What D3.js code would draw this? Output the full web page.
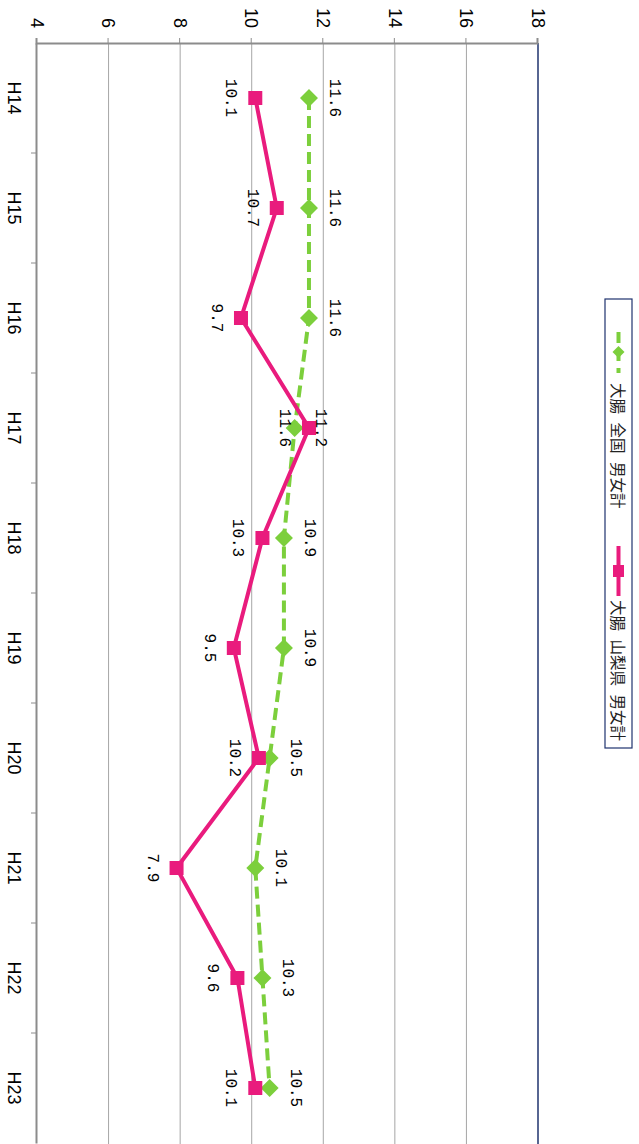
<!DOCTYPE html>
<html>
<head>
<meta charset="utf-8">
<script src="https://cdn.jsdelivr.net/npm/d3@7"></script>
<style>
  html, body { margin: 0; padding: 0; background: #fff; }
  svg { display: block; }
  .tick text { fill: #000; }
</style>
</head>
<body>
<div class="svg"></div>
<script>
// chart data
var categories = ["H14", "H15", "H16", "H17", "H18", "H19", "H20", "H21", "H22", "H23"];
var national = [11.6, 11.6, 11.6, 11.2, 10.9, 10.9, 10.5, 10.1, 10.3, 10.5];
var yamanashi = [10.1, 10.7, 9.7, 11.6, 10.3, 9.5, 10.2, 7.9, 9.6, 10.1];
var valueTicks = [4, 6, 8, 10, 12, 14, 16, 18];
var seriesNames = ["大腸 全国 男女計", "大腸 山梨県 男女計"];

var width = 639, height = 1144;
var green = "#7ccf3c", pink = "#e91b7d", navy = "#1f336e";

var svg = d3.select("div.svg")
    .append("svg")
    .attr("width", width)
    .attr("height", height);

// the whole chart is turned a quarter clockwise, so draw it upright and rotate the group
var g = svg.append("g")
    .attr("transform", "translate(" + width + ",0) rotate(90)");

var x = d3.scaleBand()
    .domain(categories)
    .range([43, 1143])
    .padding(0);

var y = d3.scaleLinear()
    .domain([4, 18])
    .range([602, 101]);

var cx = function (i) { return x(categories[i]) + x.bandwidth() / 2; };

// horizontal gridlines
g.append("g")
    .selectAll("line")
    .data(valueTicks.filter(function (v) { return v > 4 && v < 18; }))
    .enter().append("line")
    .attr("x1", 43).attr("x2", 1144)
    .attr("y1", function (d) { return y(d); })
    .attr("y2", function (d) { return y(d); })
    .attr("stroke", "#a6a6a6")
    .attr("stroke-width", 1);

// top border of the plot
g.append("line")
    .attr("x1", 43).attr("x2", 1144)
    .attr("y1", y(18)).attr("y2", y(18))
    .attr("stroke", navy)
    .attr("stroke-width", 1.5);

// value axis
var yAxis = g.append("g")
    .attr("transform", "translate(43,0)")
    .call(d3.axisLeft(y).tickValues(valueTicks).tickSize(5).tickPadding(10));
yAxis.select(".domain").attr("stroke", "#8c8c8c").attr("stroke-width", 2);
yAxis.selectAll(".tick line").attr("stroke", "#8c8c8c");
yAxis.selectAll(".tick text")
    .style("font-family", "'Liberation Sans Narrow', 'Liberation Sans', Arial, sans-serif")
    .style("font-size", "18px");

// category axis
var xAxis = g.append("g")
    .attr("transform", "translate(0," + y(4) + ")")
    .call(d3.axisBottom(x).tickSize(0).tickPadding(16));
xAxis.select(".domain").attr("stroke", "#8c8c8c").attr("stroke-width", 2);
xAxis.selectAll(".tick text")
    .style("font-family", "'Liberation Sans Narrow', 'Liberation Sans', Arial, sans-serif")
    .style("font-size", "18px");

// tick marks between categories
g.append("g")
    .selectAll("line")
    .data(categories.slice(1))
    .enter().append("line")
    .attr("x1", function (d) { return x(d); })
    .attr("x2", function (d) { return x(d); })
    .attr("y1", y(4)).attr("y2", y(4) + 6)
    .attr("stroke", "#8c8c8c");

var line = d3.line()
    .x(function (d, i) { return cx(i); })
    .y(function (d) { return y(d); });

// national series: dashed green with diamonds
g.append("path")
    .datum(national)
    .attr("d", line)
    .attr("fill", "none")
    .attr("stroke", green)
    .attr("stroke-width", 4)
    .attr("stroke-dasharray", "12,6");

g.append("g")
    .selectAll("path")
    .data(national)
    .enter().append("path")
    .attr("d", "M0,-9L9,0L0,9L-9,0Z")
    .attr("transform", function (d, i) { return "translate(" + cx(i) + "," + y(d) + ")"; })
    .attr("fill", green);

// yamanashi series: solid pink with squares
g.append("path")
    .datum(yamanashi)
    .attr("d", line)
    .attr("fill", "none")
    .attr("stroke", pink)
    .attr("stroke-width", 4);

g.append("g")
    .selectAll("rect")
    .data(yamanashi)
    .enter().append("rect")
    .attr("x", function (d, i) { return cx(i) - 7; })
    .attr("y", function (d) { return y(d) - 7; })
    .attr("width", 14).attr("height", 14)
    .attr("fill", pink);

// data labels
var labelFont = "'Liberation Mono', 'DejaVu Sans Mono', monospace";
g.append("g")
    .selectAll("text")
    .data(national)
    .enter().append("text")
    .attr("x", function (d, i) { return cx(i); })
    .attr("y", function (d) { return y(d) - 25; })
    .attr("text-anchor", "middle")
    .attr("dominant-baseline", "central")
    .style("font-family", labelFont)
    .style("font-size", "16px")
    .text(function (d) { return d.toFixed(1); });

g.append("g")
    .selectAll("text")
    .data(yamanashi)
    .enter().append("text")
    .attr("x", function (d, i) { return cx(i); })
    .attr("y", function (d) { return y(d) + 25; })
    .attr("text-anchor", "middle")
    .attr("dominant-baseline", "central")
    .style("font-family", labelFont)
    .style("font-size", "16px")
    .text(function (d) { return d.toFixed(1); });

// legend
var legend = g.append("g").attr("transform", "translate(299,7)");
legend.append("rect")
    .attr("x", 0).attr("y", 0)
    .attr("width", 449).attr("height", 27)
    .attr("fill", "#fff")
    .attr("stroke", navy)
    .attr("stroke-width", 1.2);

var entry = legend.selectAll("g.entry")
    .data(seriesNames)
    .enter().append("g")
    .attr("class", "entry")
    .attr("transform", function (d, i) { return "translate(" + (33 + i * 214) + ",13.5)"; });

entry.append("line")
    .attr("x1", 0).attr("x2", function (d, i) { return i === 0 ? 41 : 50; })
    .attr("y1", 0).attr("y2", 0)
    .attr("stroke", function (d, i) { return i === 0 ? green : pink; })
    .attr("stroke-width", 4)
    .attr("stroke-dasharray", function (d, i) { return i === 0 ? "11,7" : null; });

entry.each(function (d, i) {
    var e = d3.select(this);
    if (i === 0) {
        e.append("path").attr("d", "M20,-6L26,0L20,6L14,0Z").attr("fill", green);
    } else {
        e.append("rect").attr("x", 19).attr("y", -5.5).attr("width", 12).attr("height", 11).attr("fill", pink);
    }
});

entry.append("text")
    .attr("x", function (d, i) { return i === 0 ? 51 : 54; })
    .attr("y", 0)
    .attr("dominant-baseline", "central")
    .style("font-family", "'Noto Sans CJK JP', sans-serif")
    .style("font-size", "15.5px")
    .style("word-spacing", "5px")
    .style("fill", "#222")
    .text(function (d) { return d; });
</script>
</body>
</html>
